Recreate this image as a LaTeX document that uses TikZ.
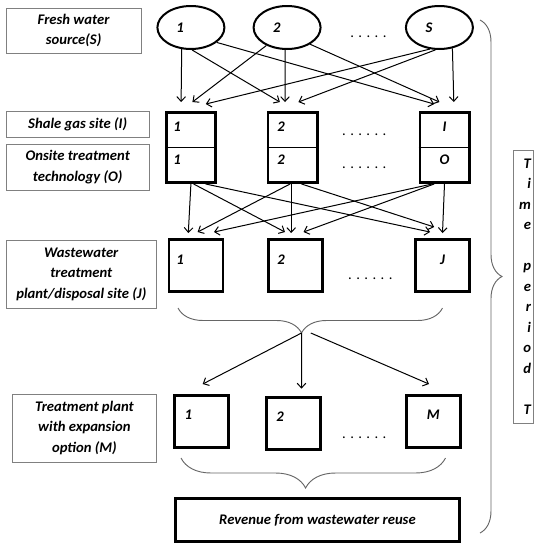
\documentclass[tikz,border=0pt]{standalone}
\usepackage{fontspec}
\setmainfont{Carlito}
\usetikzlibrary{arrows.meta, positioning, shapes.geometric, decorations.pathreplacing}

\begin{document}
\begin{tikzpicture}[
  x=0.75pt, y=-0.75pt,
  font=\fontsize{11}{15.4}\selectfont\bfseries\itshape,
  rowlabel/.style={draw=gray, line width=0.6pt, align=center, inner sep=1pt},
  source/.style={ellipse, draw, line width=1.5pt, minimum width=50.25pt, minimum height=32.25pt, inner sep=0pt},
  site/.style={draw, line width=2pt, minimum width=37pt, minimum height=52.7pt, inner sep=0pt},
  plant/.style={draw, line width=2pt, minimum width=40.5pt, minimum height=39.2pt, inner sep=0pt},
  num/.style={inner sep=0pt},
  more/.style={font=\fontsize{11}{13}\selectfont\mdseries\upshape, inner sep=0pt},
  flow/.style={-{Straight Barb[length=3.5pt, width=6.5pt]}, line width=0.75pt},
  curly/.style={decorate, draw=gray!80!black, line width=0.7pt},
]
\useasboundingbox (0,0) rectangle (538,550);

% row captions
\node[rowlabel, minimum width=101.25pt, minimum height=33.75pt] (lS) at (73.6,30.5) {Fresh water\\source(S)};
\node[rowlabel, minimum width=107.25pt, minimum height=19.5pt] (lI) at (77.7,124) {Shale gas site (I)};
\node[rowlabel, minimum width=107.25pt, minimum height=34.5pt] (lO) at (77.7,167) {Onsite treatment\\technology (O)};
\node[rowlabel, minimum width=112.5pt, minimum height=51pt] (lJ) at (81.3,274) {Wastewater\\treatment\\plant/disposal site (J)};
\node[rowlabel, minimum width=108pt, minimum height=51pt] (lM) at (84.4,428) {Treatment plant\\with expansion\\option (M)};

% fresh water sources
\node[source] (s1) at (190.9,27.5) {};
\node[source] (s2) at (287.1,27.5) {};
\node[source] (sS) at (439.4,27.5) {};
\node[num] (s1n) at (180,28) {1};
\node[num] (s2n) at (276.8,28) {2};
\node[num] (sSn) at (429,28) {S};
\node[more] (sdots) at (368.4,37) {. . . . .};

% shale gas sites with onsite treatment
\node[site] (i1) at (190.9,147.5) {};
\node[site] (i2) at (292.8,147.5) {};
\node[site] (iI) at (444.5,147.5) {};
\draw[line width=0.75pt] (i1.west) -- (i1.east);
\draw[line width=0.75pt] (i2.west) -- (i2.east);
\draw[line width=0.75pt] (iI.west) -- (iI.east);
\node[num] (i1n) at (177,127) {1};
\node[num] (o1n) at (177,160) {1};
\node[num] (i2n) at (281,127) {2};
\node[num] (o2n) at (281,160) {2};
\node[num] (iIn) at (444.5,127) {I};
\node[num] (oOn) at (444.5,160) {O};
\node[more] (idots) at (364.3,135) {. . . . . .};
\node[more] (odots) at (364.3,168) {. . . . . .};

% wastewater plants / disposal sites
\node[plant] (w1) at (196,265.5) {};
\node[plant] (w2) at (295.3,265.5) {};
\node[plant] (wJ) at (442.5,265.5) {};
\node[num] (w1n) at (180,260) {1};
\node[num] (w2n) at (281,260) {2};
\node[num] (wJn) at (442.5,260) {J};
\node[more] (wdots) at (370.4,279) {. . . . . .};

% treatment plants with expansion
\node[plant] (m1) at (201.7,421.5) {};
\node[plant] (m2) at (293.7,423.5) {};
\node[plant] (mM) at (433.2,421.5) {};
\node[num] (m1n) at (188.3,415) {1};
\node[num] (m2n) at (280,417) {2};
\node[num] (mMn) at (433.2,415) {M};
\node[more] (mdots) at (364.3,438) {. . . . . .};

\node[draw, line width=2pt, minimum width=213pt, minimum height=32.5pt] (rev) at (317.5,520) {Revenue from wastewater reuse};

\node[draw=gray, line width=0.6pt, minimum width=15pt, minimum height=204.75pt, text width=12pt, align=right, inner xsep=1.5pt, inner ysep=0pt] (time) at (523,286.5)
  {T\\i\\m\\e\\\mbox{}\\p\\e\\r\\i\\o\\d\\\mbox{}\\T};

% sources -> sites
\draw[flow] (s1.-113) -- ([shift={(-9.8,-9)}]i1.north);
\draw[flow] (s1.-87) -- ([shift={(-12.9,-9)}]i2.north);
\draw[flow] (s1.-30) -- ([shift={(-10.3,-7)}]iI.north);
\draw[flow] (s2.-139) -- ([shift={(1.5,-9)}]i1.north);
\draw[flow] (s2.-95) -- ([shift={(-7.8,-9)}]i2.north);
\draw[flow] (s2.-36) -- ([shift={(-5.1,-9)}]iI.north);
\draw[flow] (sS.-114) -- ([shift={(14.9,-7)}]i1.north);
\draw[flow] (sS.-100) -- ([shift={(5.6,-9)}]i2.north);
\draw[flow] (sS.-58) -- ([shift={(9.3,-9)}]iI.north);

% sites -> wastewater plants
\draw[flow] (i1.south) -- ([shift={(-7.7,-5)}]w1.north);
\draw[flow] ([xshift=2pt]i1.south) -- ([shift={(-10.3,-6)}]w2.north);
\draw[flow] ([xshift=11pt]i1.south) -- ([shift={(-12.4,-6)}]wJ.north);
\draw[flow] ([xshift=-2pt]i2.south) -- ([shift={(1.6,-6)}]w1.north);
\draw[flow] ([xshift=-1.2pt]i2.south) -- ([shift={(-4.1,-5)}]w2.north);
\draw[flow] ([xshift=6.5pt]i2.south) -- ([shift={(-8.3,-11)}]wJ.north);
\draw[flow] ([xshift=-9.2pt]iI.south) -- ([shift={(18,-6)}]w1.north);
\draw[flow] ([xshift=-7.7pt]iI.south) -- ([shift={(8.2,-6)}]w2.north);
\draw[flow] (iI.south) -- ([shift={(0,-5)}]wJ.north);

% braces
\coordinate (wl) at (178,308);
\coordinate (wr) at (442.5,308);
\coordinate (wtip) at (301.5,333);
\draw[curly, decoration={brace, mirror, amplitude=18.75pt, aspect=0.467}] (wl) -- (wr);
\coordinate (ml) at (181,458);
\coordinate (mr) at (445.5,458);
\draw[curly, decoration={brace, mirror, amplitude=22.5pt, aspect=0.471}] (ml) -- (mr);
\coordinate (ttop) at (480,20);
\coordinate (tbot) at (480,533);
\draw[curly, decoration={brace, amplitude=16.5pt}] (ttop) -- (tbot);

% brace -> expansion plants
\draw[flow] (wtip) -- ([shift={(1,-10)}]m1.north);
\draw[flow] (wtip) -- ([shift={(7.8,-7.4)}]m2.north);
\draw[flow] ([shift={(9.3,0)}]wtip) -- ([shift={(-4.2,-10)}]mM.north);
\end{tikzpicture}
\end{document}
